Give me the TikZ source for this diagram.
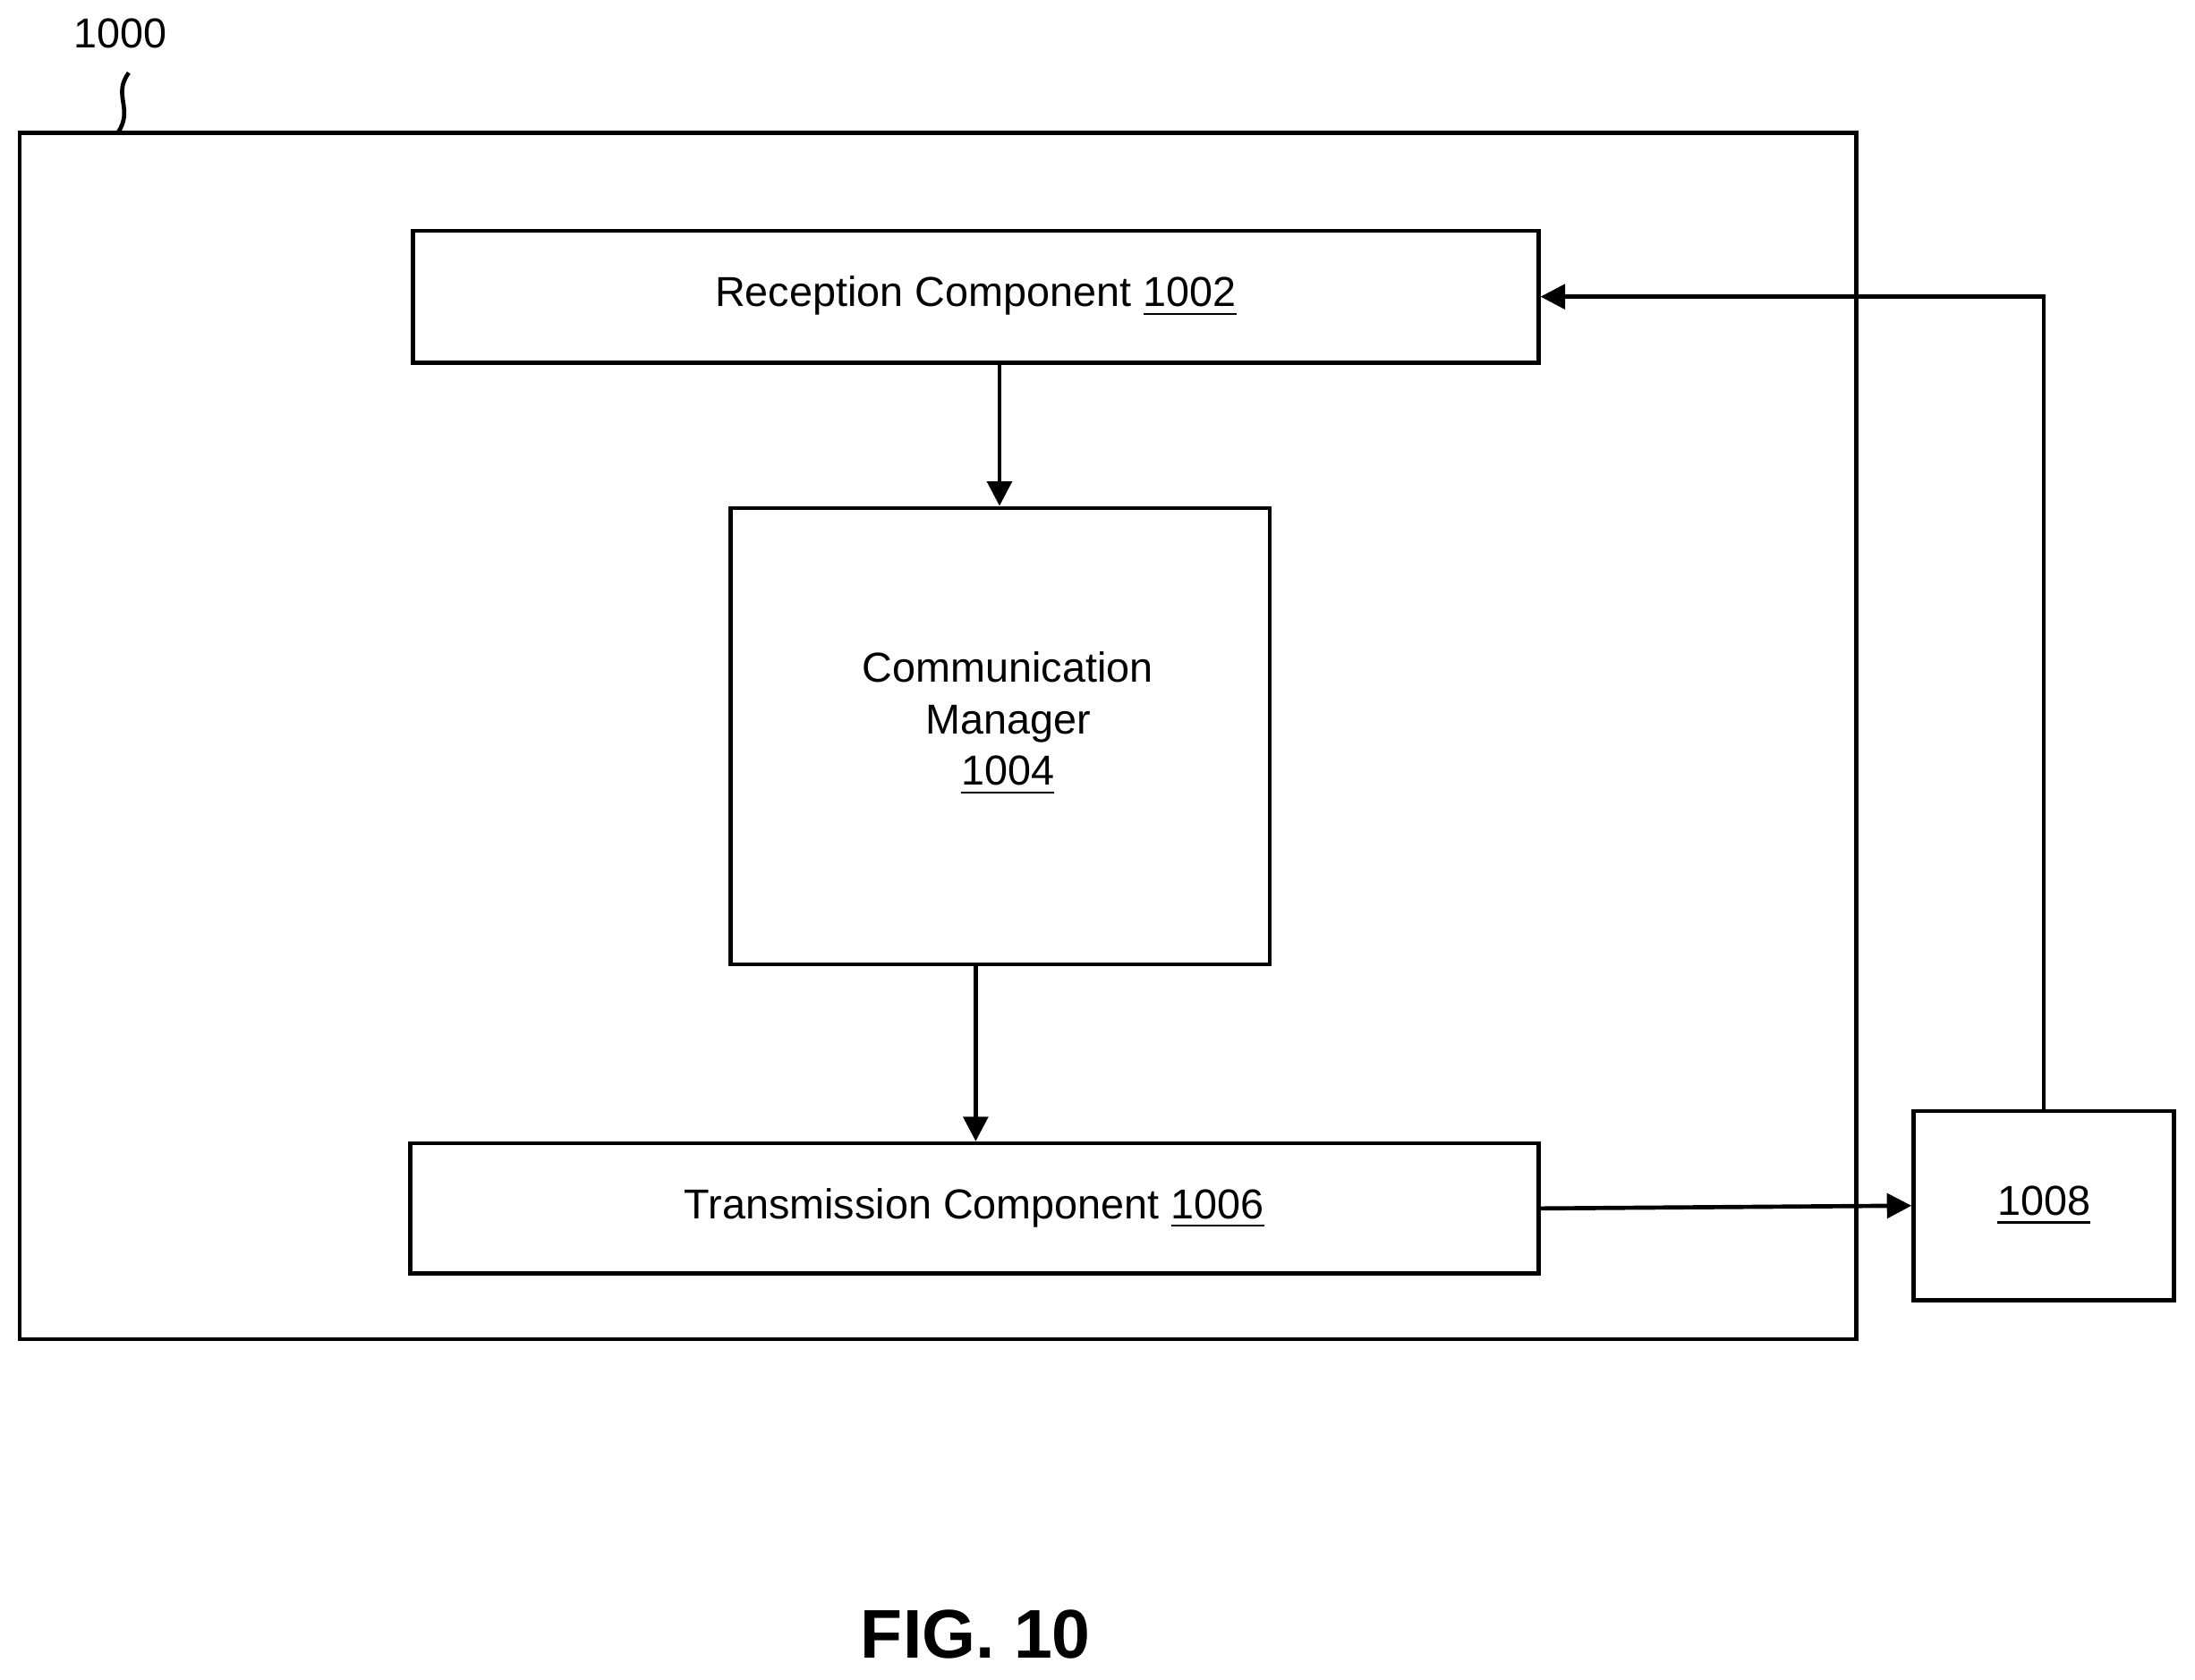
\documentclass[tikz,border=0pt]{standalone}
\usepackage{fontspec}
\setmainfont{Liberation Sans}
\usetikzlibrary{arrows.meta}

\begin{document}
\begin{tikzpicture}[
    x=0.01cm, y=-0.01cm,
    every path/.style={line width=0.85pt},
    block/.style={draw, line width=0.85pt, inner sep=0pt, font=\fontsize{8.5}{10.5}\selectfont, align=center},
    flow/.style={-{Triangle[length=5pt,width=5pt]}, line width=0.85pt},
    ]
    \useasboundingbox (0,0) rectangle (1568,1200);
    % outer device
    \node[block, minimum width=1312*0.01cm, minimum height=862*0.01cm] (device) at (670,526) {};
    \node[font=\fontsize{8.5}{10}\selectfont] (devlabel) at (86,24) {1000};
    \draw (92,52) .. controls (80,68) and (96,78) .. (84,95);
    % components
    \node[block, minimum width=804*0.01cm, minimum height=94*0.01cm] (rx) at (697,212) {Reception Component \underline{1002}};
    \node[block, minimum width=385*0.01cm, minimum height=326*0.01cm] (cm) at (714.5,526) {};
    \node[font=\fontsize{8.5}{10.5}\selectfont, align=center] (cmtext) at (720,517) {Communication\\Manager\\\underline{1004}};
    \node[block, minimum width=806*0.01cm, minimum height=93*0.01cm] (tx) at (696,863.5) {Transmission Component \underline{1006}};
    \node[block, minimum width=186*0.01cm, minimum height=135*0.01cm] (ext) at (1460,861.5) {\underline{1008}};
    % connectors
    \draw[flow] (rx.south -| 714,0) -- (cm.north -| 714,0);
    \draw[flow] (cm.south -| 697,0) -- (tx.north -| 697,0);
    \draw[flow] (tx.east) -- (ext.west);
    \draw[flow] (ext.north) |- (rx.east);
    \node[font=\bfseries\fontsize{14}{16}\selectfont] (fig) at (697,1168) {FIG. 10};
\end{tikzpicture}
\end{document}
